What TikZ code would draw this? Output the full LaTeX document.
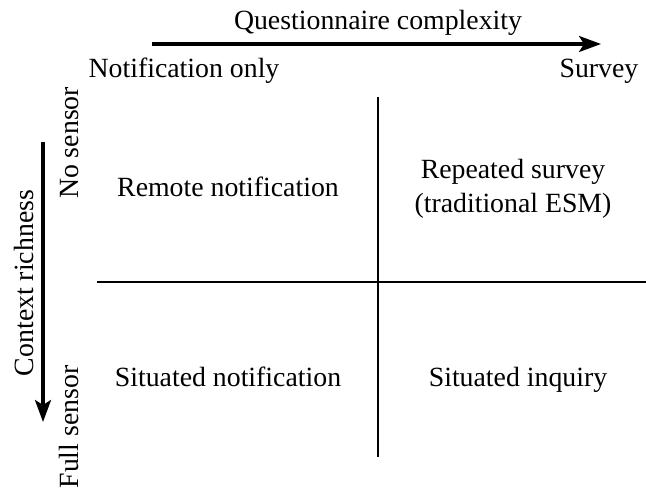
\documentclass[tikz,border=0pt]{standalone}
\usepackage{fontspec}
\setmainfont{Liberation Serif}
\usetikzlibrary{arrows.meta}

\tikzset{
  axis/.style={line width=3.2pt, -{Stealth[length=22pt,width=16pt,inset=5pt]}},
  divider/.style={line width=2.8pt},
  label/.style={font=\fontsize{27.8}{34}\selectfont, align=center, inner sep=0pt, anchor=base},
}

\begin{document}
\begin{tikzpicture}[x=1pt, y=-1pt]
    \useasboundingbox (0,0) rectangle (646,489);

    %% Questionnaire complexity (horizontal axis)
    \coordinate (qstart) at (152,44);
    \coordinate (qend) at (601,44);
    \draw[axis] (qstart) -- (qend);
    \node[label] (qtitle) at (378,30) {Questionnaire complexity};
    \node[label] (notifonly) at (184,78) {Notification only};
    \node[label] (survey) at (599,78) {Survey};

    %% Context richness (vertical axis)
    \coordinate (cstart) at (43,142);
    \coordinate (cend) at (43,422);
    \draw[axis] (cstart) -- (cend);
    \node[label, rotate=90] (ctitle) at (33,283) {Context richness};
    \node[label, rotate=90] (nosensor) at (78,143) {No sensor};
    \node[label, rotate=90] (fullsensor) at (78,427) {Full sensor};

    %% Quadrant dividers
    \coordinate (vtop) at (378,97);
    \coordinate (vbot) at (378,457);
    \coordinate (hleft) at (97,282);
    \coordinate (hright) at (646,282);
    \draw[divider] (vtop) -- (vbot);
    \draw[divider] (hleft) -- (hright);

    %% Quadrants
    \node[label] (remote) at (228,197) {Remote notification};
    \node[label, anchor=north] (repeated) at (513,159) {Repeated survey\\(traditional ESM)};
    \node[label] (sitnotif) at (228,386) {Situated notification};
    \node[label] (sitinq) at (518,386) {Situated inquiry};

\end{tikzpicture}
\end{document}
